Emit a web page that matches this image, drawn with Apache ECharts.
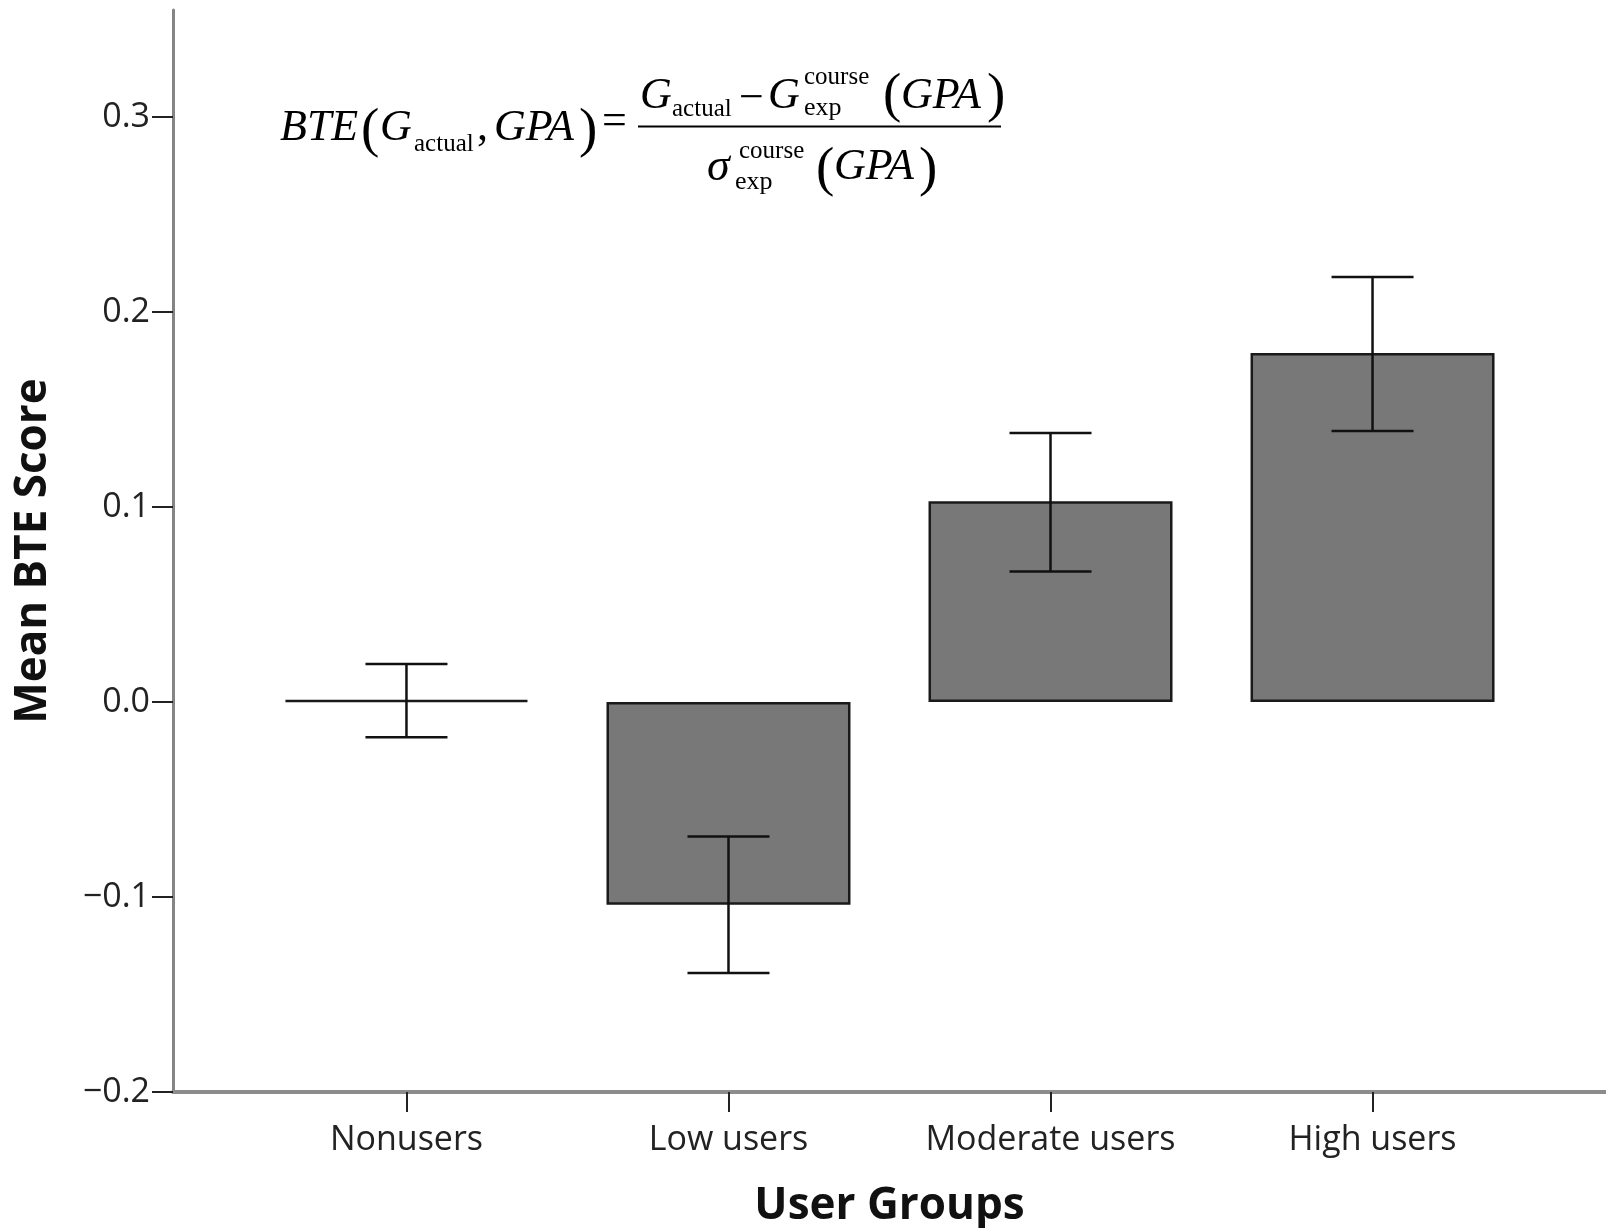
<!DOCTYPE html>
<html>
<head>
<meta charset="utf-8">
<script src="https://cdn.jsdelivr.net/npm/echarts@6/dist/echarts.min.js"></script>
<style>
html,body{margin:0;padding:0;background:#fff;}
#chart{width:1606px;height:1228px;}
</style>
</head>
<body>
<div id="chart"></div>
<script>
// ---- data ----
const categories = ['Nonusers', 'Low users', 'Moderate users', 'High users'];
const meanValues = [0.001, -0.104, 0.103, 0.179];
const errLow = [-0.018, -0.139, 0.067, 0.139];
const errHigh = [0.0195, -0.069, 0.138, 0.218];
const yTickValues = [-0.2, -0.1, 0.0, 0.1, 0.2, 0.3];
const xTickValues = [0, 1, 2, 3];

const chart = echarts.init(document.getElementById('chart'));

const serif = '"Liberation Serif", "Times New Roman", serif';
function ft(text, x, base, size, italic) {
  return {
    type: 'text',
    x: x,
    y: base - 0.3375 * size,
    z: 100,
    style: {
      text: text,
      font: (italic ? 'italic ' : '') + size + 'px ' + serif,
      fill: '#000',
      align: 'left',
      verticalAlign: 'middle'
    }
  };
}

const formula = [
  ft('BTE', 280, 143, 44, true),
  ft('(', 361, 150, 55, false),
  ft('G', 380, 143, 44, true),
  ft('actual', 414, 153, 25, false),
  ft(',', 477, 143, 44, false),
  ft('GPA', 494, 143, 44, true),
  ft(')', 579, 150, 55, false),
  ft('=', 602, 137, 44, false),
  // numerator
  ft('G', 640, 111, 44, true),
  ft('actual', 672, 118, 25, false),
  ft('\u2212', 739, 114, 44, false),
  ft('G', 768, 111, 44, true),
  ft('course', 804, 86, 25, false),
  ft('exp', 804, 117, 26, false),
  ft('(', 883, 115, 55, false),
  ft('GPA', 901, 111, 44, true),
  ft(')', 987, 115, 55, false),
  // denominator
  ft('\u03c3', 707, 183, 46, true),
  ft('course', 739, 160, 25, false),
  ft('exp', 735, 191, 26, false),
  ft('(', 816, 189, 55, false),
  ft('GPA', 834, 182, 44, true),
  ft(')', 919, 189, 55, false),
  {
    type: 'line', z: 100,
    shape: { x1: 638, y1: 126.5, x2: 1001, y2: 126.5 },
    style: { stroke: '#000', lineWidth: 2 }
  }
];

const labelFont = '"Open Sans", "DejaVu Sans", sans-serif';

chart.setOption({
  backgroundColor: '#ffffff',
  animation: false,
  grid: { left: 173, right: 0, top: 10, bottom: 136, containLabel: false, outerBoundsMode: 'none' },
  xAxis: {
    type: 'value',
    min: -0.725,
    max: 3.725,
    name: 'User Groups',
    nameLocation: 'middle',
    nameGap: 92,
    nameTextStyle: { fontFamily: labelFont, fontWeight: 'bold', fontSize: 44, color: '#111' },
    axisLine: { show: true, onZero: false, lineStyle: { color: '#8c8c8c', width: 4 } },
    axisTick: { show: true, customValues: xTickValues, length: 20, lineStyle: { color: '#222', width: 2 } },
    axisLabel: {
      customValues: xTickValues,
      formatter: function (v) { return categories[Math.round(v)]; },
      margin: 31,
      fontFamily: labelFont, fontSize: 34, color: '#222'
    },
    splitLine: { show: false }
  },
  yAxis: {
    type: 'value',
    min: -0.2,
    max: 0.355,
    name: 'Mean BTE Score',
    nameLocation: 'middle',
    nameGap: 118,
    nameTextStyle: { fontFamily: labelFont, fontWeight: 'bold', fontSize: 44, color: '#111' },
    axisLine: { show: true, onZero: false, lineStyle: { color: '#858585', width: 3 } },
    axisTick: { show: true, customValues: yTickValues, length: 21, lineStyle: { color: '#222', width: 2 } },
    axisLabel: {
      customValues: yTickValues,
      formatter: function (v) { return (v < 0 ? '\u2212' : '') + Math.abs(v).toFixed(1); },
      margin: 23,
      fontFamily: labelFont, fontSize: 34, color: '#222'
    },
    splitLine: { show: false }
  },
  series: [
    {
      type: 'bar',
      data: meanValues.map(function (v, i) { return [i, v]; }),
      barWidth: 244,
      itemStyle: { color: '#787878', borderColor: '#1a1a1a', borderWidth: 2.5 },
      z: 2
    },
    {
      type: 'custom',
      data: errLow.map(function (lo, i) { return [i, lo, errHigh[i]]; }),
      renderItem: function (params, api) {
        const x = api.value(0);
        const lo = api.coord([x, api.value(1)]);
        const hi = api.coord([x, api.value(2)]);
        const half = 41;
        const st = { stroke: '#111', lineWidth: 2.5 };
        return {
          type: 'group',
          children: [
            { type: 'line', shape: { x1: lo[0], y1: lo[1], x2: hi[0], y2: hi[1] }, style: st },
            { type: 'line', shape: { x1: hi[0] - half, y1: hi[1], x2: hi[0] + half, y2: hi[1] }, style: st },
            { type: 'line', shape: { x1: lo[0] - half, y1: lo[1], x2: lo[0] + half, y2: lo[1] }, style: st }
          ]
        };
      },
      z: 5
    }
  ],
  graphic: formula
});
</script>
</body>
</html>
